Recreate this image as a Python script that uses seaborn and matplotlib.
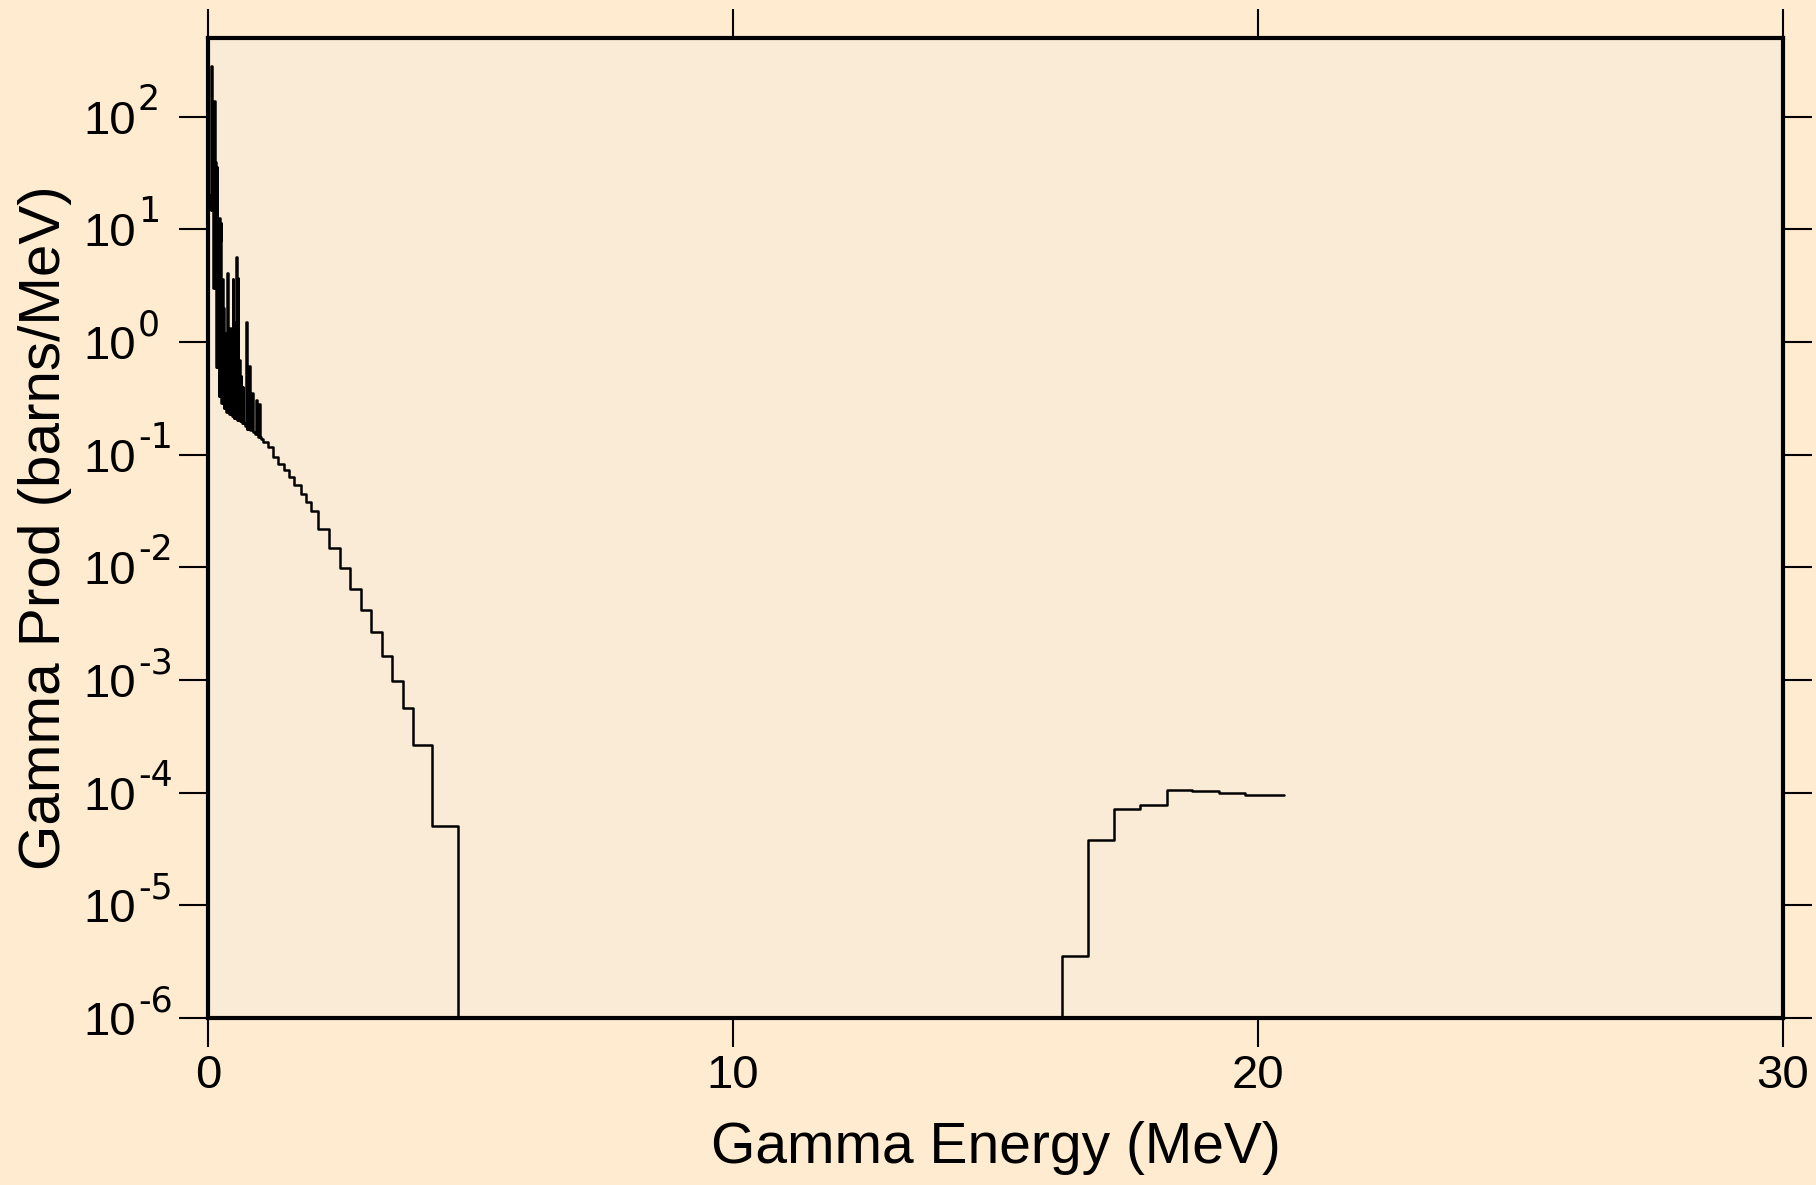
import numpy as np
import matplotlib
matplotlib.use("Agg")
import matplotlib.pyplot as plt
import matplotlib.ticker as mticker
from matplotlib.transforms import blended_transform_factory, ScaledTranslation
import seaborn as sns

# Gamma production spectrum, stored as a step histogram:
# each value holds from its lower edge up to the next edge (MeV, barns/MeV).
cont_edges = [0.0, 0.05, 0.10, 0.15, 0.20, 0.25, 0.30, 0.35, 0.40, 0.45,
              0.50, 0.55, 0.60, 0.65, 0.70, 0.75, 0.80, 0.85, 0.90, 0.95,
              1.00, 1.05, 1.15, 1.245, 1.34, 1.44, 1.543, 1.645, 1.765, 1.86,
              1.956, 2.10, 2.31, 2.51, 2.71, 2.91, 3.11, 3.31, 3.51, 3.71,
              3.91, 4.26, 4.76]
cont_values = [20.0, 15.0, 3.0, 0.6, 0.33, 0.29, 0.26, 0.24, 0.23, 0.22,
               0.21, 0.205, 0.20, 0.19, 0.18, 0.17, 0.165, 0.16, 0.152, 0.145,
               0.138, 0.13, 0.117, 0.0956, 0.083, 0.073, 0.0635, 0.0536, 0.0452, 0.0381,
               0.0315, 0.0221, 0.0150, 0.00993, 0.00646, 0.00415, 0.00266, 0.00163, 0.00098, 0.000566,
               0.000265, 0.0000509, 0.0]

# discrete gamma lines in the low-energy region
line_energy = [0.062, 0.087, 0.112, 0.132, 0.162, 0.182, 0.212, 0.232, 0.242, 0.272,
               0.292, 0.312, 0.332, 0.362, 0.392, 0.422, 0.442, 0.472, 0.502, 0.532,
               0.562, 0.592, 0.622, 0.662, 0.722, 0.752, 0.787, 0.842, 0.912, 0.972]
line_height = [280.0, 30.0, 137.0, 40.0, 36.0, 12.0, 12.6, 8.0, 11.4, 3.6,
               2.0, 1.2, 0.9, 4.1, 1.0, 1.33, 0.8, 3.6, 1.5, 5.7,
               3.7, 0.7, 0.5, 0.4, 1.5, 0.5, 0.61, 0.35, 0.305, 0.28]
line_width = 0.012

# high-energy capture continuum
high_edges = [16.26, 16.76, 17.26, 17.75, 18.26, 18.75, 19.26, 19.75, 20.5]
high_values = [3.56e-6, 3.8e-5, 7.16e-5, 7.82e-5, 1.064e-4, 1.04e-4, 9.93e-5, 9.6e-5]

x_ticks = [0, 10, 20, 30]
y_exponents = [-6, -5, -4, -3, -2, -1, 0, 1, 2]

# ---- assemble one step series ----
edges = np.array(cont_edges)
vals = np.array(cont_values)


def base_at(e):
    return vals[np.searchsorted(edges, e, side="right") - 1]


pairs = list(zip(cont_edges, cont_values))
for e, h in zip(line_energy, line_height):
    pairs.append((e, h))
    pairs.append((e + line_width, base_at(e + line_width)))
pairs.sort(key=lambda p: p[0])
pairs += list(zip(high_edges[:-1], high_values))
pairs.append((high_edges[-1], high_values[-1]))

xs = np.array([p[0] for p in pairs])
ys = np.array([p[1] for p in pairs])
# empty bins sit below the axis floor on the log scale
ys_plot = np.where(ys > 0, ys, 1e-9)

# ---- styling ----
sns.set_theme(style="ticks")
plt.rcParams["font.family"] = ["Liberation Sans", "DejaVu Sans"]
plt.rcParams["axes.unicode_minus"] = False

fig_bg = "#FFEBD0"
ax_bg = "#FAEBD7"

W, H = 1816, 1185
AX_L, AX_R, AX_T, AX_B = 208, 1783, 38, 1018
fig = plt.figure(figsize=(W / 100, H / 100), dpi=100, facecolor=fig_bg)
ax = fig.add_axes([AX_L / W, 1 - AX_B / H, (AX_R - AX_L) / W, (AX_B - AX_T) / H])
ax.set_facecolor(ax_bg)

sns.lineplot(x=xs, y=ys_plot, sort=False, estimator=None, drawstyle="steps-post",
             color="black", linewidth=1.8, ax=ax)

ax.set_yscale("log")
ax.set_xlim(0, 30)
ax.set_ylim(1e-6, 500)

ax.set_xticks(x_ticks)
ax.set_xticklabels([str(t) for t in x_ticks])
ax.set_yticks([10.0 ** k for k in y_exponents])
ax.set_yticklabels([])
ax.yaxis.set_minor_locator(mticker.NullLocator())
ax.xaxis.set_minor_locator(mticker.NullLocator())

for s in ax.spines.values():
    s.set_linewidth(3.0)
    s.set_color("black")
    s.set_visible(True)

ax.tick_params(axis="both", which="major", direction="out", length=21, width=1.5,
               top=True, right=True, labeltop=False, labelright=False,
               labelsize=34, colors="black", pad=5)

# decade labels: left-aligned "10" with a raised exponent
label_tr = blended_transform_factory(fig.transFigure, ax.transData)
base_size = 34
exp_size = 25
base_shift = ScaledTranslation(0, -0.358 * base_size / 72, fig.dpi_scale_trans)
exp_shift = ScaledTranslation(0, 5 / 72, fig.dpi_scale_trans)
for k in y_exponents:
    ax.text(83 / W, 10.0 ** k, "10", transform=label_tr + base_shift,
            ha="left", va="baseline", fontsize=base_size, color="black")
    ax.text(138 / W, 10.0 ** k, str(k), transform=label_tr + exp_shift,
            ha="left", va="baseline", fontsize=exp_size, color="black",
            family=["DejaVu Sans"])

ax.set_xlabel("Gamma Energy (MeV)", fontsize=41, color="black", va="top")
ax.xaxis.set_label_coords(0.5, (AX_B - 1121) / (AX_B - AX_T))
ax.set_ylabel("Gamma Prod (barns/MeV)", fontsize=42, color="black")
ax.yaxis.set_label_coords((72 - AX_L) / (AX_R - AX_L), 0.5)

fig.savefig("out.png", dpi=100, facecolor=fig_bg)
